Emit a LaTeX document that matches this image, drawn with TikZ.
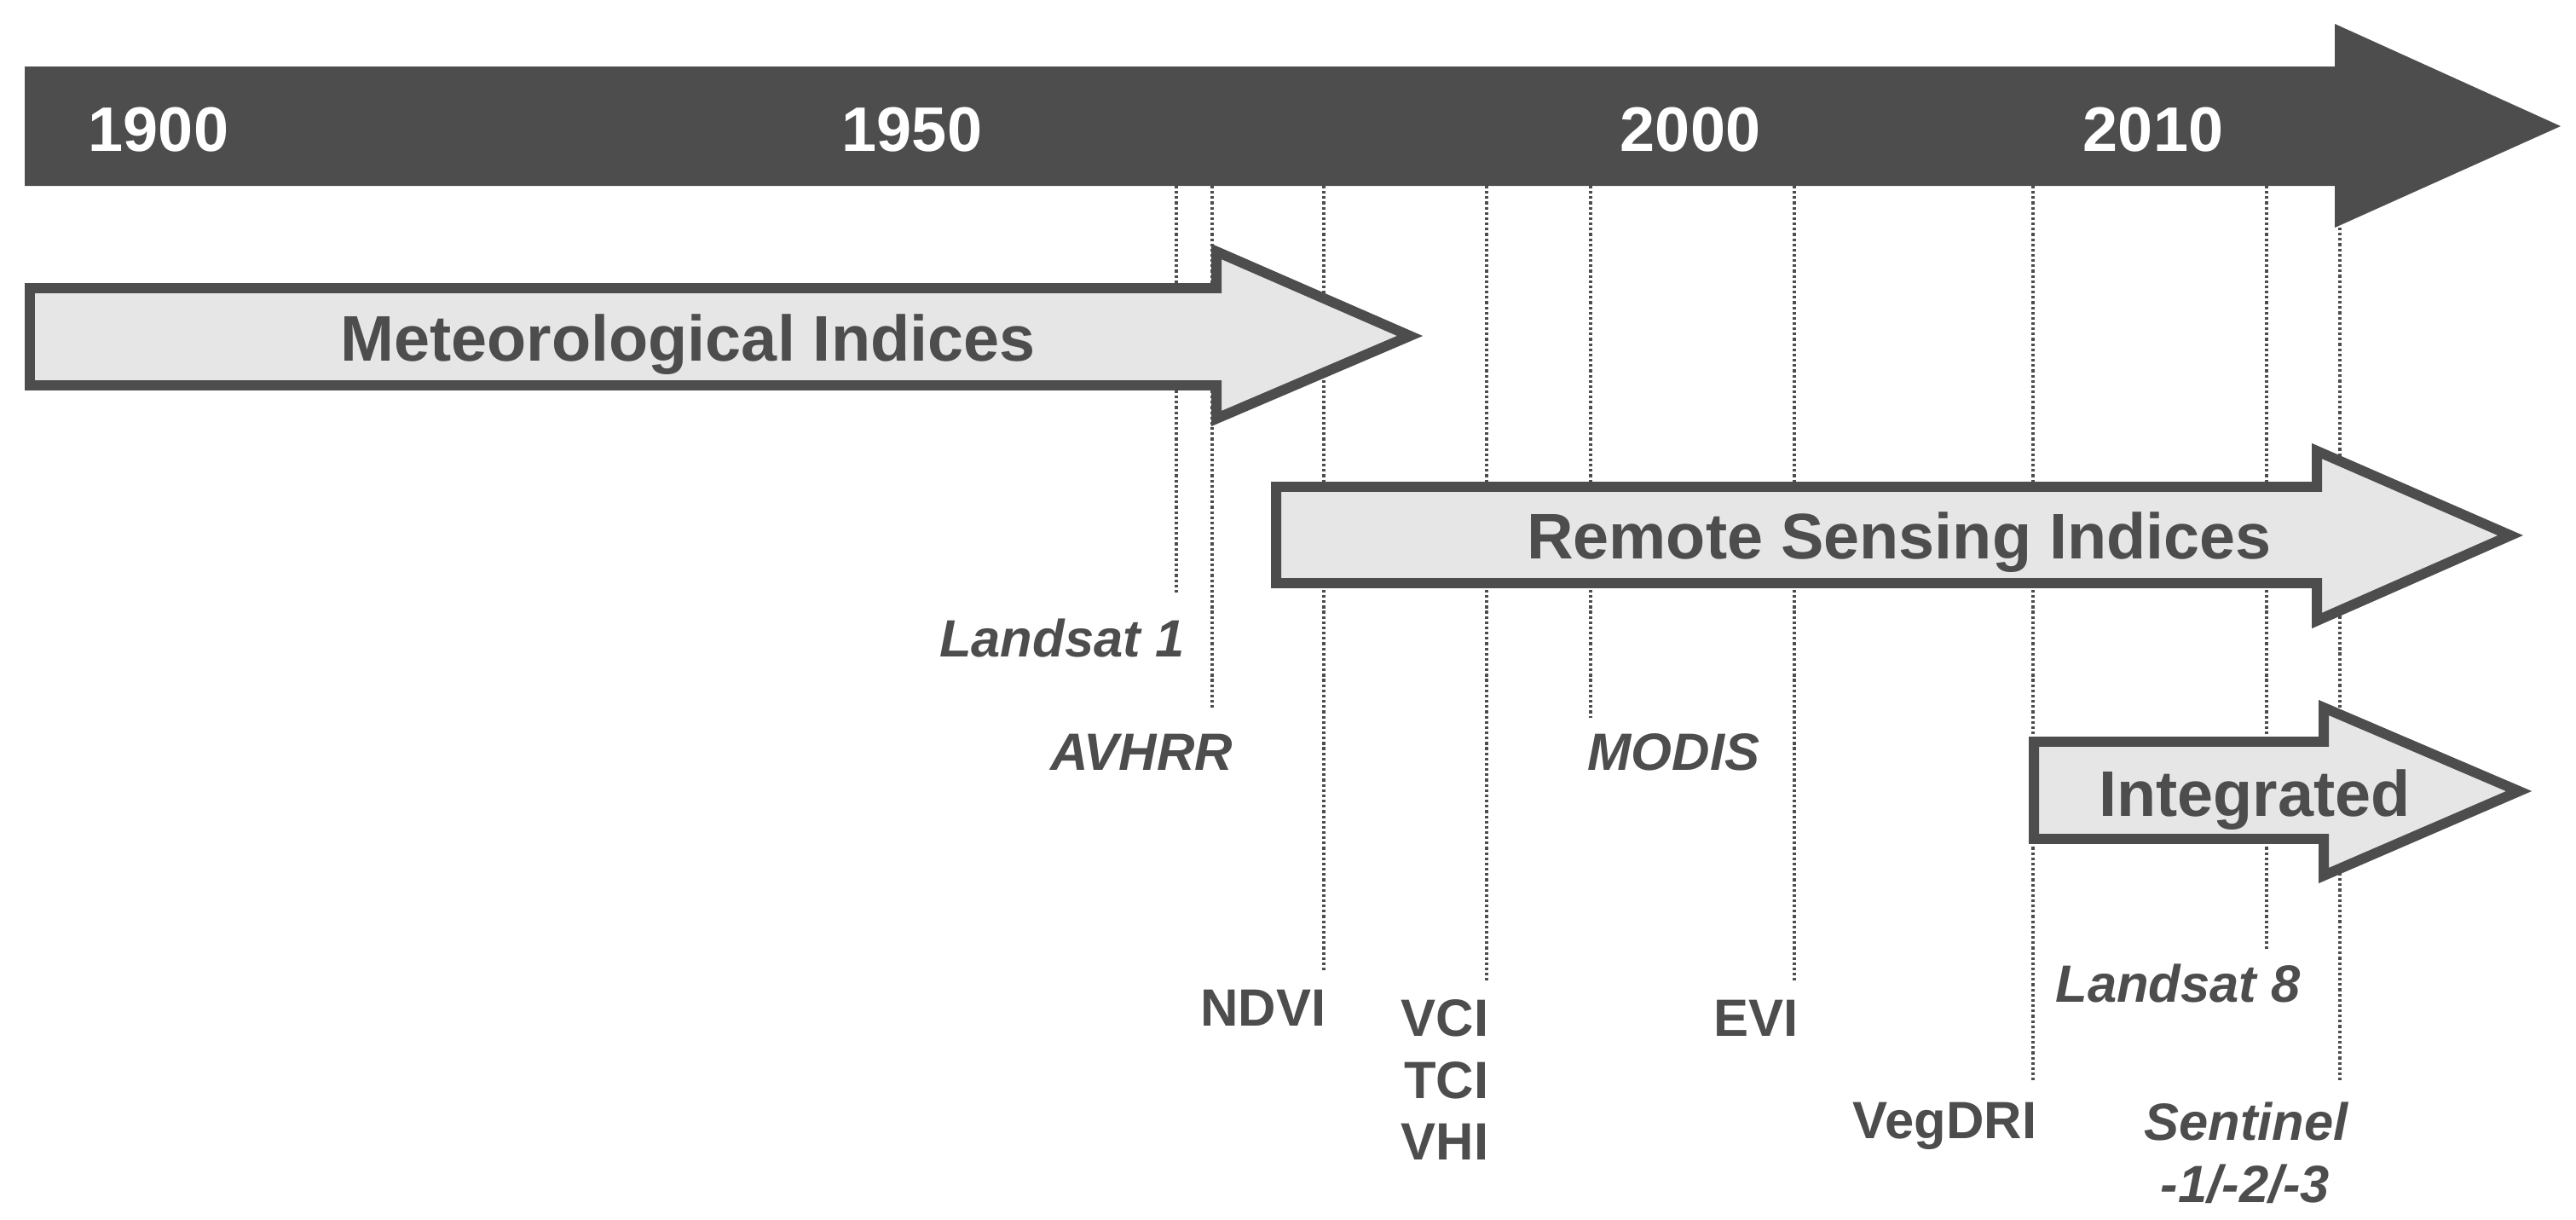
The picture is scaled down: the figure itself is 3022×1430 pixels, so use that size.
\documentclass[tikz,border=0pt]{standalone}
\usepackage{fontspec}
\setmainfont{Liberation Sans}
\definecolor{dk}{HTML}{4D4D4D}
\definecolor{lt}{HTML}{E6E6E6}
\begin{document}
\begin{tikzpicture}[x=0.01cm,y=-0.01cm,
  bigarrow/.style={draw=dk, fill=lt, line width=3.4pt, line join=miter},
  dotline/.style={draw=dk, line width=1.25pt, dash pattern=on 0.9pt off 0.85pt},
  year/.style={text=white, font=\bfseries\fontsize{21}{25}\selectfont, anchor=base, inner sep=0pt},
  bandlabel/.style={text=dk, font=\bfseries\fontsize{21.5}{26}\selectfont, anchor=base, inner sep=0pt},
  idx/.style={text=dk, font=\bfseries\fontsize{17.5}{21}\selectfont, inner sep=0pt},
  sat/.style={text=dk, font=\bfseries\itshape\fontsize{17.5}{21}\selectfont, inner sep=0pt}]
\useasboundingbox (0,0) rectangle (3022,1430);

% dotted event lines
\coordinate (l1a) at (1380,218);  \coordinate (l1b) at (1380,695);
\coordinate (ava) at (1422,218);  \coordinate (avb) at (1422,833);
\coordinate (nda) at (1553,218);  \coordinate (ndb) at (1553,1138);
\coordinate (vca) at (1744,218);  \coordinate (vcb) at (1744,1152);
\coordinate (moa) at (1866,218);  \coordinate (mob) at (1866,842);
\coordinate (eva) at (2105,218);  \coordinate (evb) at (2105,1152);
\coordinate (vea) at (2385,218);  \coordinate (veb) at (2385,1270);
\coordinate (l8a) at (2659,218);  \coordinate (l8b) at (2659,1113);
\coordinate (sea) at (2745,267);  \coordinate (seb) at (2745,1270);
\draw[dotline] (l1a) -- (l1b);
\draw[dotline] (ava) -- (avb);
\draw[dotline] (nda) -- (ndb);
\draw[dotline] (vca) -- (vcb);
\draw[dotline] (moa) -- (mob);
\draw[dotline] (eva) -- (evb);
\draw[dotline] (vea) -- (veb);
\draw[dotline] (l8a) -- (l8b);
\draw[dotline] (sea) -- (seb);

% timeline arrow
\fill[dk] (29,78) -- (2739,78) -- (2739,28) -- (3004,148) -- (2739,267) -- (2739,218) -- (29,218) -- cycle;

% band arrows
\draw[bigarrow] (35,338) -- (1427,338) -- (1427,295) -- (1654,394) -- (1427,491) -- (1427,452) -- (35,452) -- cycle;
\draw[bigarrow] (1497,571) -- (2718,571) -- (2718,529) -- (2945,628) -- (2718,728) -- (2718,684) -- (1497,684) -- cycle;
\draw[bigarrow] (2386,870) -- (2726,870) -- (2726,830) -- (2955,928) -- (2726,1027) -- (2726,984) -- (2386,984) -- cycle;

% years
\node[year] (y1900) at (186,177) {1900};
\node[year] (y1950) at (1070,177) {1950};
\node[year] (y2000) at (1983,177) {2000};
\node[year] (y2010) at (2526,177) {2010};

% band labels
\node[bandlabel] (met) at (807,423) {Meteorological Indices};
\node[bandlabel] (rs) at (2228,655) {Remote Sensing Indices};
\node[bandlabel] (int) at (2645,957) {Integrated};

% satellites
\node[sat, anchor=base east] (ls1) at (1390,770) {Landsat 1};
\node[sat, anchor=base east] (avhrr) at (1447,903) {AVHRR};
\node[sat, anchor=base west] (modis) at (1862,903) {MODIS};
\node[sat, anchor=base] (ls8) at (2555,1175) {Landsat 8};
\node[sat, anchor=base] (sen) at (2635,1337) {Sentinel};
\node[sat, anchor=base] (sen2) at (2634,1410) {-1/-2/-3};

% indices
\node[idx, anchor=base east] (ndvi) at (1556,1203) {NDVI};
\node[idx, anchor=base east] (vci) at (1747,1215) {VCI};
\node[idx, anchor=base east] (tci) at (1747,1288) {TCI};
\node[idx, anchor=base east] (vhi) at (1747,1360) {VHI};
\node[idx, anchor=base east] (evi) at (2110,1215) {EVI};
\node[idx, anchor=base east] (vegdri) at (2390,1335) {VegDRI};
\end{tikzpicture}
\end{document}
